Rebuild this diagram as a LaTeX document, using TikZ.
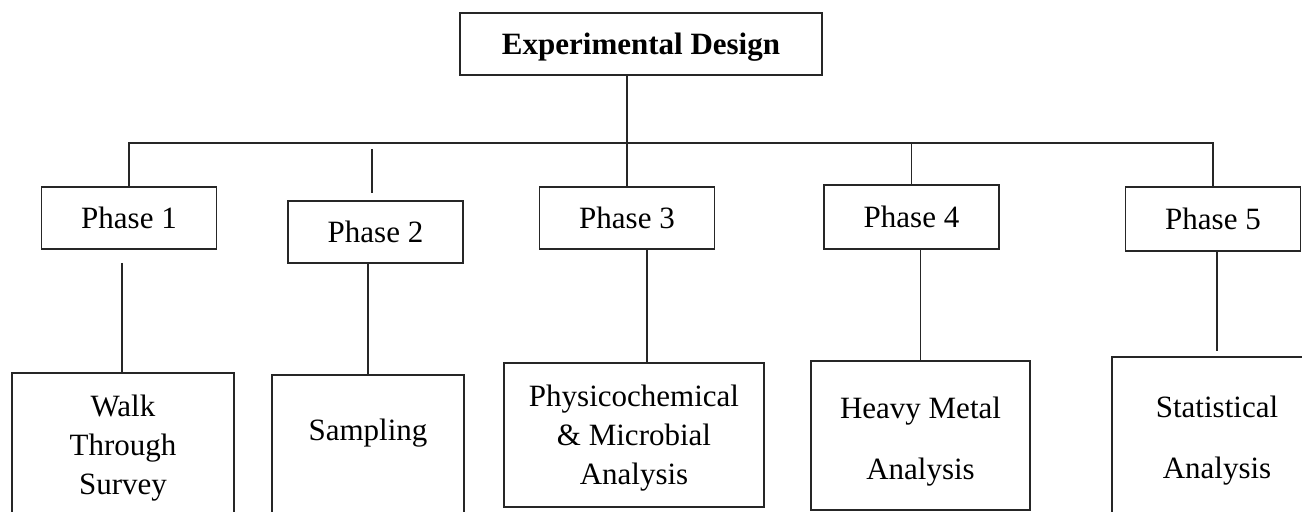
\documentclass[tikz,border=0pt]{standalone}
\usepackage{fontspec}
\setmainfont{Liberation Serif}
\usepackage{tikz}
\usetikzlibrary{shapes}

\begin{document}
\begin{tikzpicture}[x=0.5pt,y=-0.5pt]
	\tikzstyle{box}=[draw=black!85, line width=0.9pt, inner sep=0pt, font=\fontsize{15.5}{19.5}\selectfont]
	\tikzstyle{phase}=[box, minimum width=87.5pt, minimum height=31pt]
	\tikzstyle{task}=[box]
	\tikzstyle{task_text}=[inner sep=0pt, anchor=north, align=center, font=\fontsize{15.5}{19.5}\selectfont]
	\tikzstyle{line}=[draw=black!85, line width=0.9pt]

	\path[use as bounding box] (0,0) rectangle (1302,512);
	\clip (0,0) rectangle (1302,512);

	\node [box, minimum width=181pt, minimum height=31pt, text depth=0pt, font=\fontsize{15.5}{19.5}\selectfont\bfseries] (ED) at (641,44) {Experimental Design};

	\node [phase] (P1) at (129,218) {Phase 1};
	\node [phase] (P2) at (375.5,232) {Phase 2};
	\node [phase] (P3) at (627,218) {Phase 3};
	\node [phase, minimum height=32pt] (P4) at (911.5,217) {Phase 4};
	\node [phase, minimum height=32pt] (P5) at (1213,219) {Phase 5};

	\node [task, minimum width=111pt, minimum height=78.5pt] (T1) at (123,451.5) {};
	\node at (T1.north) [task_text, yshift=-11pt] {Walk\\Through\\Survey};

	\node [task, minimum width=96pt, minimum height=77.5pt] (T2) at (368,452.5) {};
	\node at (T2.north) [task_text, yshift=-22pt] {Sampling};

	\node [task, minimum width=130pt, minimum height=72pt] (T3) at (634,435) {};
	\node at (T3.north) [task_text, yshift=-11pt] {Physicochemical\\\&~Microbial\\Analysis};

	\node [task, minimum width=109.5pt, minimum height=74.5pt] (T4) at (920.5,435.5) {};
	\node at (T4.north) [task_text, yshift=-18pt] {Heavy Metal\\[11pt]Analysis};

	\node [task, minimum width=105pt, minimum height=86.5pt] (T5) at (1217,443.5) {};
	\node at (T5.north) [task_text, yshift=-19.5pt] {Statistical\\[11pt]Analysis};

	\coordinate (bus) at (0,143);
	\coordinate (S2a) at (372,149);
	\coordinate (S2b) at (372,193);
	\coordinate (G1) at (122,263);

	\draw [line] (ED.south -| P3.north) -- (P3.north);
	\draw [line] (P1.north) |- (P5.north |- bus) -- (P5.north);
	\draw [line] (P4.north) -- (P4.north |- bus);
	\draw [line] (S2a) -- (S2b);

	\draw [line] (G1) -- (G1 |- T1.north);
	\draw [line] (P2.south -| T2.north) -- (T2.north);
	\draw [line] ([xshift=10pt]P3.south) -- ([xshift=10pt]P3.south |- T3.north);
	\draw [line] (P4.south -| T4.north) -- (T4.north);
	\draw [line] (P5.south -| T5.north) -- ([yshift=2.5pt]T5.north);
\end{tikzpicture}
\end{document}
